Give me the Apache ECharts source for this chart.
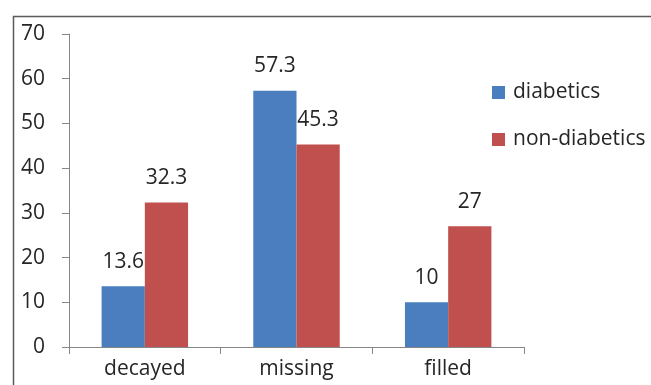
<!DOCTYPE html>
<html>
<head>
<meta charset="utf-8">
<script src="https://cdn.jsdelivr.net/npm/echarts@6/dist/echarts.min.js"></script>
<style>
  html, body { margin: 0; padding: 0; background: #fff; }
  #chart { width: 651px; height: 385px; }
</style>
</head>
<body>
<div id="chart"></div>
<script>
// Mean DMF components, diabetics vs non-diabetics
const categories = ['decayed', 'missing', 'filled'];
const diabetics = [13.6, 57.3, 10];
const nonDiabetics = [32.3, 45.3, 27];
const seriesNames = ['diabetics', 'non-diabetics'];

const FONT = '"Open Sans", Lato, sans-serif';
const TEXT = '#262626';
const AXIS = '#868686';

const chart = echarts.init(document.getElementById('chart'), null, { renderer: 'canvas' });

const labelStyle = {
  show: true,
  position: 'top',
  distance: 14,
  color: TEXT,
  fontFamily: FONT,
  fontSize: 21
};

chart.setOption({
  animation: false,
  backgroundColor: '#fff',
  graphic: [{
    type: 'rect',
    left: 11,
    top: 14,
    shape: { width: 700, height: 500 },
    style: { fill: 'none', stroke: '#5a5a5a', lineWidth: 1.5 },
    silent: true
  }],
  grid: { left: 69, right: 127, top: 34, bottom: 38 },
  legend: {
    orient: 'vertical',
    left: 487,
    top: 76,
    itemWidth: 13,
    itemHeight: 13,
    itemGap: 24,
    icon: 'rect',
    data: seriesNames,
    textStyle: { color: TEXT, fontFamily: FONT, fontSize: 21, lineHeight: 23, padding: [0, 0, 0, 3] }
  },
  xAxis: {
    type: 'category',
    data: categories,
    axisLine: { lineStyle: { color: AXIS, width: 1 } },
    axisTick: { show: true, length: 7, lineStyle: { color: AXIS } },
    axisLabel: { color: TEXT, fontFamily: FONT, fontSize: 21, margin: 12 }
  },
  yAxis: {
    type: 'value',
    min: 0,
    max: 70,
    interval: 10,
    splitLine: { show: false },
    axisLine: { show: true, lineStyle: { color: AXIS, width: 1 } },
    axisTick: { show: true, length: 7, lineStyle: { color: AXIS } },
    axisLabel: { color: TEXT, fontFamily: FONT, fontSize: 21, margin: 24 }
  },
  series: [
    {
      name: seriesNames[0],
      type: 'bar',
      data: diabetics,
      barGap: '0%',
      barCategoryGap: '43%',
      itemStyle: { color: '#4A7EBF' },
      label: labelStyle
    },
    {
      name: seriesNames[1],
      type: 'bar',
      data: nonDiabetics,
      itemStyle: { color: '#C0504D' },
      label: labelStyle
    }
  ]
});
</script>
</body>
</html>
